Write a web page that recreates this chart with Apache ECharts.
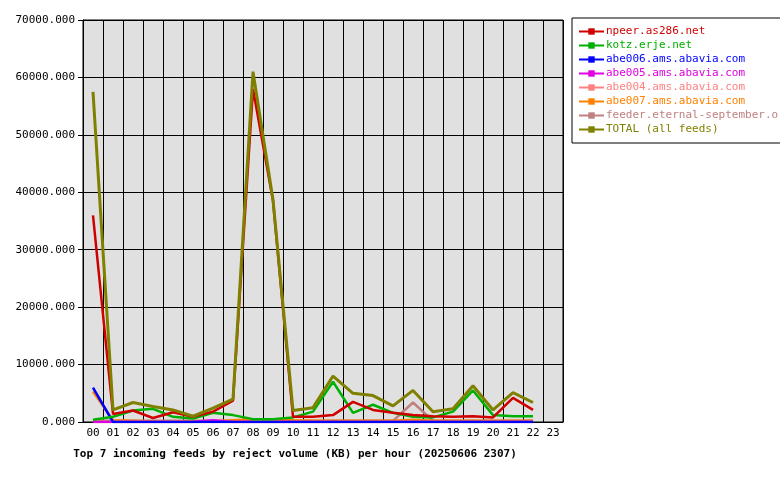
<!DOCTYPE html>
<html><head><meta charset="utf-8">
<script src="https://cdn.jsdelivr.net/npm/echarts@6/dist/echarts.min.js"></script>
<style>html,body{margin:0;background:#fff}#c{width:780px;height:480px}</style>
</head><body><div id="c"></div>
<script>
const hours = ["00","01","02","03","04","05","06","07","08","09","10","11","12","13","14","15","16","17","18","19","20","21","22","23"];
const npeer = [36000,1400,2000,700,1700,900,1800,3700,58000,38500,900,900,1200,3500,2100,1600,1200,1000,900,1000,800,4200,2100];
const kotz = [400,900,2000,2300,900,600,1600,1200,500,500,800,1800,7000,1600,3000,1600,900,800,1800,5500,1200,1000,1000];
const abe006 = [6000,0,0,0,0,0,0,0,0,0,0,0,0,0,0,0,0,0,0,0,0,0,0];
const abe005 = [0,0,0,0,0,0,300,0,0,0,0,0,0,0,0,0,0,0,0,0,0,0,0];
const abe004 = [0,0,0,0,0,0,0,0,0,0,0,0,0,0,0,0,0,0,0,0,0,0,0];
const abe007 = [5300,300,200,100,100,100,100,300,500,500,300,200,200,200,200,200,400,200,200,200,200,200,200];
const feeder = [200,200,200,200,200,200,200,200,200,200,200,200,200,200,200,200,3400,200,200,200,200,200,200];
const total = [57500,2100,3400,2700,2100,1000,2400,4000,61000,38700,2000,2500,8000,5000,4600,2800,5500,1800,2300,6300,2100,5100,3400];
const names = ["npeer.as286.net","kotz.erje.net","abe006.ams.abavia.com","abe005.ams.abavia.com","abe004.ams.abavia.com","abe007.ams.abavia.com","feeder.eternal-september.org","TOTAL (all feeds)"];
const colors = ["#d00000","#00b000","#0000ff","#e000e0","#ff8080","#ff8000","#c08080","#808000"];
const datas = [npeer,kotz,abe006,abe005,abe004,abe007,feeder,total];
const font = "DejaVu Sans Mono";
const chart = echarts.init(document.getElementById('c'));
chart.setOption({
  animation:false,
  textStyle:{fontFamily:font},
  title:{text:"Top 7 incoming feeds by reject volume (KB) per hour (20250606 2307)",left:290,textAlign:'center',top:444,textStyle:{fontFamily:font,fontSize:11,fontWeight:'bold',color:'#000'}},
  legend:{orient:'vertical',left:572,top:18,width:200,height:128,padding:[8,6,8,6],itemGap:3,itemWidth:25,itemHeight:8,
    backgroundColor:'#fff',borderColor:'#000',borderWidth:1,
    data:names.map((n,i)=>({name:n,textStyle:{color:colors[i]}})),
    textStyle:{fontFamily:font,fontSize:11,padding:[0,0,0,-3]}},
  grid:{left:83,top:20,width:480,height:402,show:true,backgroundColor:'#e0e0e0',borderColor:'#000',borderWidth:1},
  xAxis:{type:'category',data:hours,boundaryGap:true,
    axisLine:{lineStyle:{color:'#000'}},axisTick:{alignWithLabel:true,lineStyle:{color:'#000'}},
    axisLabel:{color:'#000',fontFamily:font,fontSize:11,margin:6},
    splitLine:{show:true,interval:0,lineStyle:{color:'#000',width:1}}},
  yAxis:{type:'value',min:0,max:70000,interval:10000,
    axisLine:{show:true,lineStyle:{color:'#000'}},axisTick:{show:true,lineStyle:{color:'#000'}},
    axisLabel:{color:'#000',fontFamily:font,fontSize:11,formatter:v=>v.toFixed(3)},
    splitLine:{lineStyle:{color:'#000',width:1}}},
  series:names.map((n,i)=>({name:n,type:'line',data:datas[i],color:colors[i],
    symbol:'rect',symbolSize:3,showSymbol:false,
    lineStyle:{width:i===7?3:2.5,color:colors[i]},z:i===7?10:(8-i)}))
});
</script></body></html>
